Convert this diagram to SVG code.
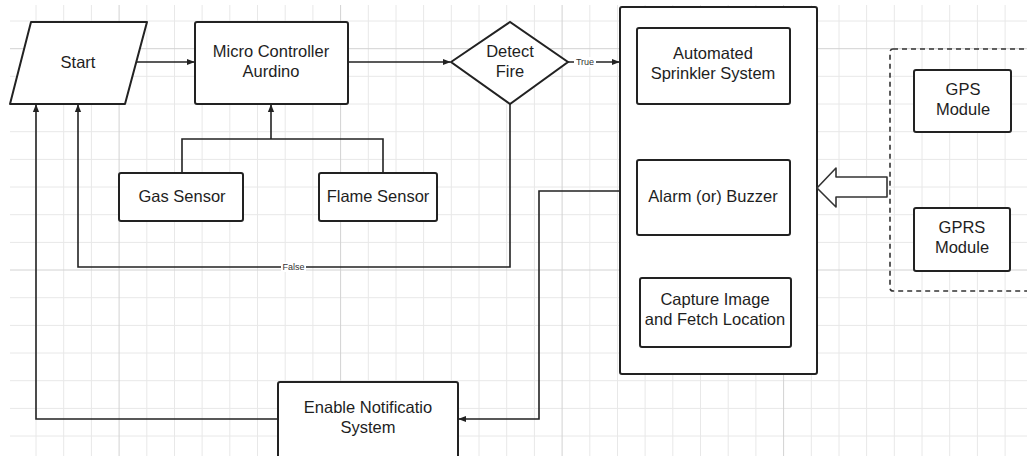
<svg xmlns="http://www.w3.org/2000/svg" width="1027" height="456" viewBox="0 0 1027 456">
  <style>
    .node { fill: #ffffff; stroke: #222222; stroke-width: 2; }
    .label { font-family: "Liberation Sans", Arial, sans-serif; font-size: 16.5px; fill: #1e1e1e; text-anchor: middle; }
    .small { font-family: "Liberation Sans", Arial, sans-serif; font-size: 9px; fill: #333333; text-anchor: middle; }
    .edge { fill: none; stroke: #222222; stroke-width: 1.6; }
    .grid { stroke: #e8e8e8; stroke-width: 1; fill: none; }
    .grid-major { stroke: #d2d2d2; stroke-width: 1; fill: none; }
  </style>
  <defs>
    <marker id="arrow" viewBox="0 0 10 10" refX="9" refY="5" markerWidth="8" markerHeight="8" markerUnits="userSpaceOnUse" orient="auto">
      <path d="M0,1 L10,5 L0,9 Z" fill="#222222"/>
    </marker>
  </defs>

  <rect width="1027" height="456" fill="#ffffff"/>

  <!-- background grid -->
  <g id="grid">
    <path class="grid" d="M36,5V456 M63.7,5V456 M91.4,5V456 M146.8,5V456 M174.5,5V456 M202.1,5V456 M229.8,5V456 M257.5,5V456 M285.2,5V456 M312.9,5V456 M368.3,5V456 M396,5V456 M423.6,5V456 M451.3,5V456 M479,5V456 M506.7,5V456 M534.4,5V456 M589.8,5V456 M617.5,5V456 M645.1,5V456 M672.8,5V456 M700.5,5V456 M728.2,5V456 M755.9,5V456 M811.3,5V456 M839,5V456 M866.6,5V456 M894.3,5V456 M922,5V456 M949.7,5V456 M977.4,5V456 M1005.1,5V456"/>
    <path class="grid" d="M10,21H1027 M10,76.3H1027 M10,104H1027 M10,131.7H1027 M10,159.4H1027 M10,187H1027 M10,214.7H1027 M10,242.4H1027 M10,297.7H1027 M10,325.4H1027 M10,353H1027 M10,380.7H1027 M10,408.4H1027 M10,436H1027"/>
    <path class="grid-major" d="M119.1,5V456 M340.6,5V456 M562.1,5V456 M783.6,5V456 M10,48.7H1027 M10,270H1027"/>
  </g>

  <!-- connectors -->
  <g id="connectors">
    <path class="edge" d="M137,62 H194" marker-end="url(#arrow)"/>
    <path class="edge" d="M348,62 H450" marker-end="url(#arrow)"/>
    <path class="edge" d="M568,62 H619" marker-end="url(#arrow)"/>
    <path class="edge" d="M182,173 V139 H383 V173"/>
    <path class="edge" d="M271,139 V105" marker-end="url(#arrow)"/>
    <path class="edge" d="M510,104 V267 H78 V105" marker-end="url(#arrow)"/>
    <path class="edge" d="M278,419 H36 V105" marker-end="url(#arrow)"/>
    <path class="edge" d="M620,191 H539 V419 H459" marker-end="url(#arrow)"/>
    <rect x="574" y="57" width="22" height="10" fill="#ffffff"/>
    <text class="small" x="585" y="65">True</text>
    <rect x="281" y="262" width="25" height="10" fill="#ffffff"/>
    <text class="small" x="293.5" y="270">False</text>
  </g>

  <g id="start">
    <polygon class="node" points="31,22 147,22 125,104 10,104" stroke-linejoin="round"/>
    <text class="label" x="78" y="68">Start</text>
  </g>

  <g id="micro-controller">
    <rect class="node" x="195" y="22" width="153" height="82" rx="2"/>
    <text class="label" x="271" y="57">Micro Controller</text>
    <text class="label" x="271" y="77">Aurdino</text>
  </g>

  <g id="detect-fire">
    <polygon class="node" points="451,62 510,22 568,62 510,104"/>
    <text class="label" x="510" y="57">Detect</text>
    <text class="label" x="510" y="77">Fire</text>
  </g>

  <g id="gas-sensor">
    <rect class="node" x="119" y="173" width="124" height="48" rx="2"/>
    <text class="label" x="182" y="202">Gas Sensor</text>
  </g>

  <g id="flame-sensor">
    <rect class="node" x="319" y="173" width="118" height="48" rx="2"/>
    <text class="label" x="378" y="202">Flame Sensor</text>
  </g>

  <g id="actions">
    <rect class="node" x="620" y="7" width="197" height="367" rx="2"/>
  </g>

  <g id="sprinkler">
    <rect class="node" x="637" y="28" width="153" height="76" rx="2"/>
    <text class="label" x="713" y="59">Automated</text>
    <text class="label" x="713" y="79">Sprinkler System</text>
  </g>

  <g id="alarm">
    <rect class="node" x="637" y="160" width="153" height="75" rx="2"/>
    <text class="label" x="713" y="202">Alarm (or) Buzzer</text>
  </g>

  <g id="capture">
    <rect class="node" x="640" y="278" width="151" height="69" rx="2"/>
    <text class="label" x="715" y="305">Capture Image</text>
    <text class="label" x="715" y="325">and Fetch Location</text>
  </g>

  <g id="modules">
    <rect x="890" y="49" width="145" height="242" rx="3" fill="none" stroke="#333333" stroke-width="1.6" stroke-dasharray="5,4"/>
  </g>

  <g id="gps">
    <rect class="node" x="914" y="70" width="97" height="62" rx="2"/>
    <text class="label" x="963" y="95">GPS</text>
    <text class="label" x="963" y="115">Module</text>
  </g>

  <g id="gprs">
    <rect class="node" x="914" y="208" width="96" height="63" rx="2"/>
    <text class="label" x="962" y="233">GPRS</text>
    <text class="label" x="962" y="253">Module</text>
  </g>

  <g id="module-arrow">
    <polygon points="817,188 836,168 836,177 887,177 887,197 836,197 836,207" fill="#ffffff" stroke="#333333" stroke-width="1.6" stroke-linejoin="round"/>
  </g>

  <g id="notification">
    <rect class="node" x="278" y="382" width="180" height="80" rx="2"/>
    <text class="label" x="368" y="413">Enable Notificatio</text>
    <text class="label" x="368" y="433">System</text>
  </g>
</svg>
